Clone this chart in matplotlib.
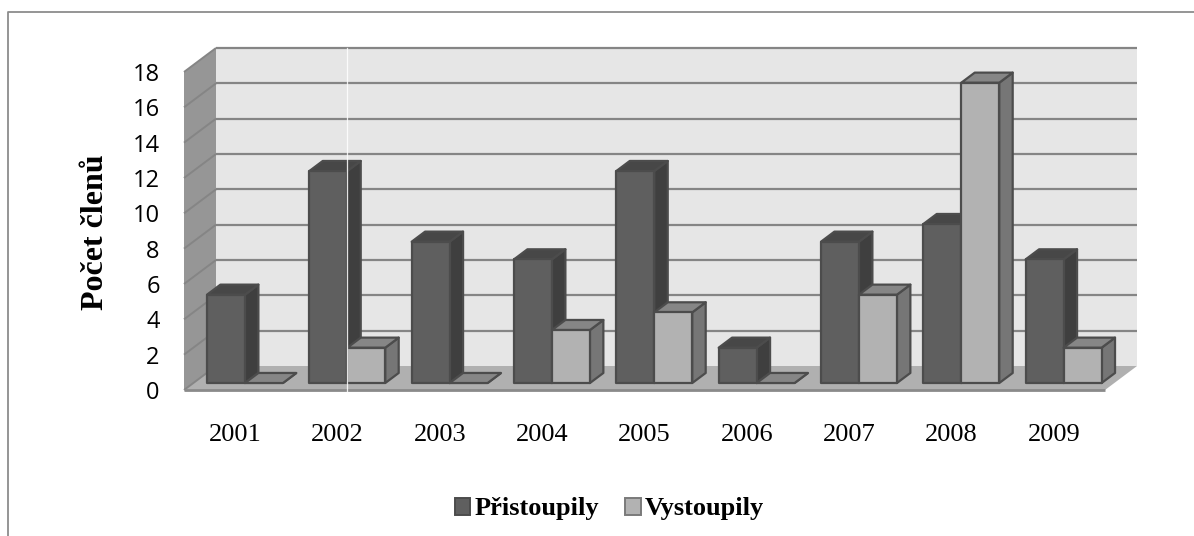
import matplotlib
matplotlib.use('Agg')
import matplotlib.pyplot as plt
from matplotlib.lines import Line2D
from matplotlib.patches import Polygon, Patch

years = ['2001', '2002', '2003', '2004', '2005', '2006', '2007', '2008', '2009']
pristoupily = [5, 12, 8, 7, 12, 2, 8, 9, 7]
vystoupily = [0, 2, 0, 3, 4, 0, 5, 17, 2]
yticks = list(range(0, 20, 2))

W, H = 1194, 536
# front plane of the plot area in pixels
LEFT, RIGHT, TOP, BOTTOM = 184, 1105, 72, 390
DX = 32 / ((RIGHT - LEFT) / 9)     # depth offset in data units
DY = 24 / ((BOTTOM - TOP) / 18)
BAR_W = 0.371
BAR_X = 0.134
Z0, Z1 = 0.29, 0.71

DARK = ('#5f5f5f', '#474747', '#3f3f3f')
LIGHT = ('#b2b2b2', '#868686', '#767676')
EDGE = '#4c4c4c'


def proj(x, y, z):
    return (x + z * DX, y + z * DY)


def draw_bar(ax, x, val, cols):
    front, top, side = cols
    a = proj(x, 0, Z0)
    b = proj(x + BAR_W, 0, Z0)
    c = proj(x + BAR_W, val, Z0)
    d = proj(x, val, Z0)
    e = proj(x + BAR_W, 0, Z1)
    f = proj(x + BAR_W, val, Z1)
    g = proj(x, val, Z1)
    kw = dict(ec=EDGE, lw=1.6, joinstyle='round', clip_on=False, zorder=4)
    ax.add_patch(Polygon([b, e, f, c], fc=side, **kw))
    ax.add_patch(Polygon([d, c, f, g], fc=top, **kw))
    if val > 0:
        ax.add_patch(Polygon([a, b, c, d], fc=front, **kw))


fig = plt.figure(figsize=(W / 100, H / 100), dpi=100)
# frame only shows on the left and top
fig.add_artist(Line2D([7.5 / W, 7.5 / W, 1], [0, 1 - 11.5 / H, 1 - 11.5 / H],
                      transform=fig.transFigure, color='#8c8c8c', lw=1.3, zorder=-1))
ax = fig.add_axes([LEFT / W, 1 - BOTTOM / H, (RIGHT - LEFT) / W, (BOTTOM - TOP) / H])
ax.set_xlim(0, 9)
ax.set_ylim(0, 18)
ax.patch.set_visible(False)
for s in ax.spines.values():
    s.set_visible(False)

# back wall, side wall, floor
ax.add_patch(Polygon([proj(0, 0, 1), proj(9, 0, 1), proj(9, 18, 1), proj(0, 18, 1)],
                     fc='#e6e6e6', ec='none', clip_on=False, zorder=1))
ax.add_patch(Polygon([proj(0, 0, 0), proj(0, 0, 1), proj(0, 18, 1), proj(0, 18, 0)],
                     fc='#969696', ec='none', clip_on=False, zorder=1))
ax.add_patch(Polygon([proj(0, 0, 0), proj(9, 0, 0), proj(9, 0, 1), proj(0, 0, 1)],
                     fc='#b0b0b0', ec='none', clip_on=False, zorder=2))

# gridlines
for v in yticks:
    if v > 0:
        ax.plot(*zip(proj(0, v, 1), proj(9, v, 1)), color='#858585', lw=1.6, clip_on=False,
                zorder=2, solid_capstyle='butt')
    ax.plot(*zip(proj(0, v, 0), proj(0, v, 1)), color='#858585', lw=1.4, clip_on=False,
            zorder=2, solid_capstyle='butt')
ax.plot([0, 9], [0, 0], color='#8a8a8a', lw=2, clip_on=False, zorder=3, solid_capstyle='butt')

for i in range(len(years)):
    draw_bar(ax, i + BAR_X, pristoupily[i], DARK)
    draw_bar(ax, i + BAR_X + BAR_W, vystoupily[i], LIGHT)

ax.set_yticks(yticks)
ax.set_yticklabels([str(v) for v in yticks], family='Open Sans', fontsize=17, color='black')
ax.set_xticks([i + 0.5 for i in range(len(years))])
ax.set_xticklabels(years, family='Liberation Serif', fontsize=19, color='black')
ax.tick_params(axis='both', length=0)
ax.tick_params(axis='x', pad=24.5)
ax.tick_params(axis='y', pad=17.5)
ax.set_ylabel('Počet členů', family='Liberation Serif', fontweight='bold', fontsize=23)
ax.yaxis.set_label_coords((110 - LEFT) / (RIGHT - LEFT), (BOTTOM - 232) / (BOTTOM - TOP))

# white seam through the picture
ax.plot([(347 - LEFT) / ((RIGHT - LEFT) / 9)] * 2, [-0.3, 18 + DY], color='white', lw=0.9,
        clip_on=False, zorder=6, alpha=0.85)

handles = [Patch(fc=DARK[0], ec=EDGE, lw=1.4), Patch(fc=LIGHT[0], ec='#7a7a7a', lw=1.4)]
fig.legend(handles, ['Přistoupily', 'Vystoupily'], loc='center', bbox_to_anchor=(609.5 / W, 1 - 509 / H),
           ncol=2, frameon=False, handlelength=0.6, handleheight=0.6, handletextpad=0.15,
           columnspacing=1.0, prop=dict(family='Liberation Serif', weight='bold', size=19))

fig.savefig('out.png', dpi=100)
